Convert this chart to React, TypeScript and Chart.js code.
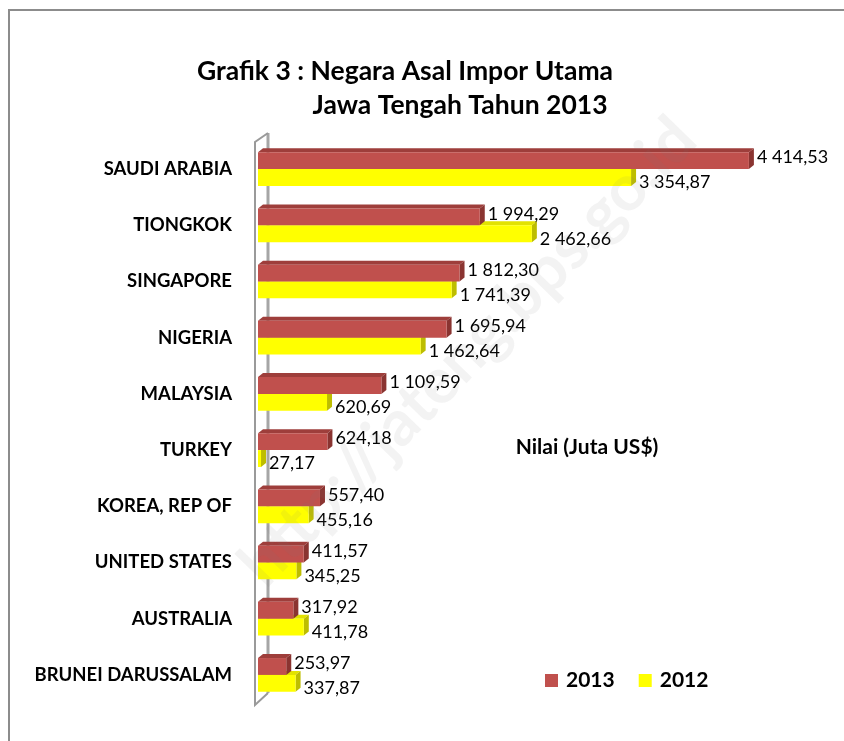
import React, { useEffect, useRef } from 'react';
import { Chart, registerables } from 'chart.js';

Chart.register(...registerables);

const categories = ['SAUDI ARABIA', 'TIONGKOK', 'SINGAPORE', 'NIGERIA', 'MALAYSIA', 'TURKEY', 'KOREA, REP OF', 'UNITED STATES', 'AUSTRALIA', 'BRUNEI DARUSSALAM'];
const values2013 = [4414.53, 1994.29, 1812.3, 1695.94, 1109.59, 624.18, 557.4, 411.57, 317.92, 253.97];
const values2012 = [3354.87, 2462.66, 1741.39, 1462.64, 620.69, 27.17, 455.16, 345.25, 411.78, 337.87];
const seriesLabels = ['2013', '2012'];
const titleLines = ['Grafik 3 : Negara Asal Impor Utama', 'Jawa Tengah Tahun 2013'];
const axisNote = 'Nilai (Juta US$)';
const watermark = 'http://jateng.bps.go.id';

const frontColors = ['#C0504D', '#FFFF00'];
const topColors = ['#9E3E3B', '#E2E200'];
const sideColors = ['#8A3431', '#BDBD00'];
const FONT = 'Lato, "Open Sans", sans-serif';
const DX = 5;
const DY = 4;

const fmt = (v: number) => {
  const [i, d] = v.toFixed(2).split('.');
  return i.replace(/\B(?=(\d{3})+(?!\d))/g, ' ') + ',' + d;
};

const decorPlugin = {
  id: 'decor',
  beforeDatasetsDraw(chart: any) {
    const ctx = chart.ctx;
    const a = chart.chartArea;
    ctx.save();
    ctx.strokeStyle = '#A6A6A6';
    ctx.lineWidth = 3;
    ctx.beginPath();
    ctx.moveTo(a.left + 10, a.top - 8);
    ctx.lineTo(a.left + 10, a.bottom - 10);
    ctx.stroke();
    ctx.strokeStyle = '#9A9A9A';
    ctx.lineWidth = 2;
    ctx.beginPath();
    ctx.moveTo(a.left + 10, a.top - 8);
    ctx.lineTo(a.left - 3, a.top + 1);
    ctx.lineTo(a.left - 3, a.bottom + 2);
    ctx.lineTo(a.left + 10, a.bottom - 10);
    ctx.stroke();
    for (let di = chart.data.datasets.length - 1; di >= 0; di--) {
      const meta = chart.getDatasetMeta(di);
      meta.data.forEach((bar: any) => {
        const p = bar.getProps(['x', 'y', 'base', 'height'], true);
        const top = p.y - p.height / 2;
        const bottom = p.y + p.height / 2;
        ctx.fillStyle = topColors[di];
        ctx.beginPath();
        ctx.moveTo(p.base, top);
        ctx.lineTo(p.base + DX, top - DY);
        ctx.lineTo(p.x + DX, top - DY);
        ctx.lineTo(p.x, top);
        ctx.closePath();
        ctx.fill();
        ctx.fillStyle = sideColors[di];
        ctx.beginPath();
        ctx.moveTo(p.x, top);
        ctx.lineTo(p.x + DX, top - DY);
        ctx.lineTo(p.x + DX, bottom - DY);
        ctx.lineTo(p.x, bottom);
        ctx.closePath();
        ctx.fill();
      });
    }
    ctx.restore();
  },
  afterDatasetsDraw(chart: any) {
    const ctx = chart.ctx;
    ctx.save();
    ctx.font = `18px ${FONT}`;
    ctx.fillStyle = '#000';
    ctx.textAlign = 'left';
    ctx.textBaseline = 'middle';
    chart.data.datasets.forEach((ds: any, di: number) => {
      const meta = chart.getDatasetMeta(di);
      meta.data.forEach((bar: any, i: number) => {
        const p = bar.getProps(['x', 'y'], true);
        ctx.fillText(fmt(ds.data[i]), p.x + DX + 3, p.y + (di === 0 ? -3 : 5));
      });
    });
    ctx.restore();
  },
  afterDraw(chart: any) {
    const ctx = chart.ctx;
    ctx.save();
    ctx.fillStyle = '#000';
    ctx.font = `bold 26.5px ${FONT}`;
    ctx.textAlign = 'center';
    ctx.textBaseline = 'middle';
    ctx.fillText(titleLines[0], 405, 71);
    ctx.fillText(titleLines[1], 460, 105);
    ctx.font = `bold 21px ${FONT}`;
    ctx.fillText(axisNote, 587, 447);
    ctx.font = `bold 21px ${FONT}`;
    ctx.textAlign = 'left';
    let x = 545;
    chart.data.datasets.forEach((ds: any) => {
      ctx.fillStyle = ds.backgroundColor;
      ctx.fillRect(x, 674, 13, 13);
      ctx.fillStyle = '#000';
      ctx.fillText(ds.label, x + 21, 680);
      x += 21 + ctx.measureText(ds.label).width + 24;
    });
    ctx.translate(468, 352);
    ctx.rotate(-0.8);
    ctx.font = `bold 64px ${FONT}`;
    ctx.textAlign = 'center';
    ctx.fillStyle = 'rgba(120,120,120,0.09)';
    ctx.fillText(watermark, 0, 0);
    ctx.restore();
    ctx.save();
    ctx.strokeStyle = '#8C8C8C';
    ctx.lineWidth = 2;
    ctx.beginPath();
    ctx.moveTo(9, 741);
    ctx.lineTo(9, 10);
    ctx.lineTo(844, 10);
    ctx.stroke();
    ctx.restore();
  },
};

export default function App() {
  const ref = useRef<HTMLCanvasElement>(null);
  useEffect(() => {
    if (!ref.current) return;
    const chart = new Chart(ref.current, {
      type: 'bar',
      data: {
        labels: categories,
        datasets: [
          { label: seriesLabels[0], data: values2013, backgroundColor: frontColors[0], barPercentage: 1, categoryPercentage: 0.6 },
          { label: seriesLabels[1], data: values2012, backgroundColor: frontColors[1], barPercentage: 1, categoryPercentage: 0.6 },
        ],
      },
      options: {
        indexAxis: 'y',
        animation: false,
        responsive: true,
        maintainAspectRatio: false,
        layout: { padding: { top: 141, bottom: 38, right: 30, left: 0 } },
        plugins: { legend: { display: false }, tooltip: { enabled: false }, title: { display: false } },
        scales: {
          x: { display: false, min: 0, max: 5000 },
          y: {
            grid: { display: false, drawTicks: false },
            border: { display: false },
            afterFit: (s: any) => { s.width = 258; },
            ticks: { padding: 26, color: '#000', font: { family: FONT, weight: 'bold', size: 18.5 } },
          },
        },
      },
      plugins: [decorPlugin],
    });
    return () => chart.destroy();
  }, []);
  return (
    <div style={{ position: 'absolute', left: 0, top: 0, width: 844, height: 741, background: '#fff' }}>
      <canvas ref={ref} />
    </div>
  );
}
